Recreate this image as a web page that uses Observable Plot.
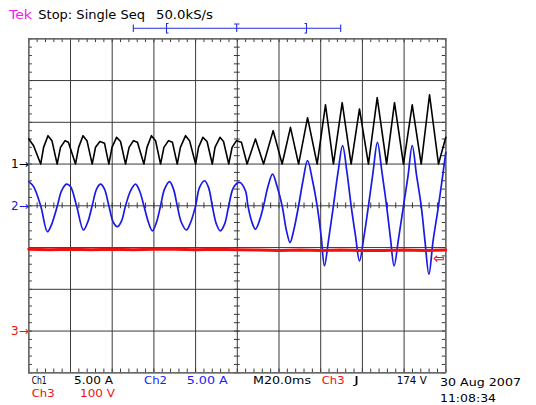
<!DOCTYPE html>
<html><head><meta charset="utf-8">
<script src="https://cdn.jsdelivr.net/npm/d3@7"></script>
<script src="https://cdn.jsdelivr.net/npm/@observablehq/plot@0.6"></script>
<style>
html,body{margin:0;padding:0;background:#fff;}
#wrap{position:relative;width:536px;height:405px;overflow:hidden;font-family:"DejaVu Sans",sans-serif;}
#wrap > svg{position:absolute;left:0;top:0;}
</style></head><body><div id="wrap"></div>
<script>
// ---- Screen grid (time in ms, vertical in divisions) ----
const majorX = [-100,-80,-60,-40,-20,0,20,40,60,80,100];
const majorY = [-4,-3,-2,-1,0,1,2,3,4];

// ---- Channels ----
const chLabels = ["1→","2→","3→"];
const chPos = [1, 0, -3];          // divisions
const chScale = [5, 5, 100];       // A/div, A/div, V/div
const chColors = ["#000000","#1a1ae6","#f01010"];
const triggerLevelV = [174];

// ---- Ch1 (black), time ms / current A ----
const ch1Time = [-100,-97.7,-94.3,-92.9,-90.8,-88.9,-86.4,-84.8,-82.6,-81.0,-77.6,-76.1,-74.0,-72.1,-69.6,-68.0,-65.9,-63.7,-61.6,-60.1,-57.9,-56.0,-53.6,-51.9,-49.8,-47.9,-44.8,-43.3,-41.2,-39.2,-36.8,-35.2,-33.0,-31.1,-28.8,-27.3,-24.8,-22.9,-20.0,-18.6,-16.5,-14.5,-12.0,-10.7,-8.3,-6.6,-4.1,-2.5,-0.4,2.0,4.7,8.7,12.6,17.2,21.5,25.5,29.4,33.7,38.3,42.3,46.1,50.3,54.6,58.6,62.9,67.1,71.6,75.4,79.7,83.9,88.2,92.2,96.5,100];
const ch1Amps = [3.0,2.2,0,2.0,3.4,2.8,0,2.0,2.8,2.6,0,2.0,3.4,2.8,0,2.0,2.7,2.5,0,2.0,3.2,2.7,0,2.0,2.8,2.6,0,2.0,3.4,2.8,0,2.0,2.8,2.6,0,2.0,3.4,2.8,0,2.0,3.2,2.7,0,2.0,3.2,2.7,0,2.0,2.8,2.6,0,3.0,0,4.0,0,4.4,0,5.55,0,7.1,0,7.35,0,6.6,0,7.95,0,7.35,0,7.1,0,8.3,0,3.2];

// ---- Ch2 (blue), time ms / current A ----
const ch2Time = [-100,-97.7,-94.3,-91.1,-89.5,-86.3,-84.3,-81.9,-80.0,-77.1,-73.8,-71.8,-69.6,-67.5,-65.6,-63.7,-61.6,-59.4,-57.5,-55.5,-53.6,-51.2,-48.8,-46.9,-44.8,-42.6,-40.7,-38.8,-36.8,-34.9,-32.5,-30.6,-28.8,-26.8,-24.4,-22.4,-20.0,-18.1,-15.7,-13.8,-12.0,-10.0,-8.1,-6.1,-4.1,-1.8,1.1,3.9,5.1,6.8,8.7,10.6,12.6,14.7,16.9,19.0,21.5,23.6,25.3,27.0,29.4,31.5,33.7,36.1,38.3,40.2,41.8,43.7,46.1,48.3,50.5,52.6,54.6,56.7,58.6,60.8,62.9,65.1,67.2,69.4,71.6,73.5,75.2,77.3,79.7,81.9,83.9,86.0,88.2,90.0,91.9,93.9,96.5,100];
const ch2Amps = [2.9,2.3,0,-3.1,-2.5,0,1.8,2.6,2.3,0,-2.9,-2.0,0,2.0,2.6,2.0,0,-2.0,-2.5,-1.8,0,1.8,2.6,1.8,0,-2.0,-3.0,-2.0,0,2.0,2.9,2.0,0,-2.0,-2.9,-2.0,0,2.2,3.0,2.2,0,-2.2,-3.0,-2.2,0,2.2,2.8,1.8,0,-1.8,-2.8,-1.8,0,2.3,3.8,2.4,0,-3.0,-4.4,-3.0,0,3.0,5.4,3.0,0,-3.6,-7.2,-4.2,0,4.0,7.2,4.0,0,-3.6,-6.6,-3.6,0,4.0,7.6,4.0,0,-4.0,-7.2,-4.0,0,3.6,7.2,3.6,0,-4.2,-8.2,-4.2,0,6.4];

// ---- Ch3 (red), time ms / voltage V ----
const ch3Time = [-100,-90,-80,-70,-60,-50,-40,-30,-20,-10,0,10,20,30,40,50,60,70,80,90,100];
const ch3Volts = [196,195,196,195,196,195,196,196,195,196,195,194,193,194,193,194,193,193,194,193,194];

// ---- Readout texts ----
const headerBrand = "Tek";
const headerState = "Stop: Single Seq";
const headerRate = "50.0kS/s";
const readLine1 = [["Ch1","#000",31.7,15],["5.00 A","#000",74,39],["Ch2","#1a1aff",144,23],["5.00 A","#1a1aff",186.7,41],["M20.0ms","#000",253,58],["Ch3","#f01010",321.7,23],["J","#000",354,5],["174 V","#000",396.7,30]];
const readLine2 = [["Ch3","#f01010",31.7,23],["100 V","#f01010",80,35]];
const dateText = ["30 Aug 2007","11:08:34"];

// ---- build ----
const toRows = (ts, vs, k) => ts.map((t,i)=>({t, y: chPos[k] + vs[i]/chScale[k]}));
const ch1 = toRows(ch1Time, ch1Amps, 0);
const ch2 = toRows(ch2Time, ch2Amps, 1);
const ch3 = toRows(ch3Time, ch3Volts, 2);
const channels = chLabels.map((l,i)=>({label:l, pos:chPos[i], color:chColors[i]}));

const minorX = d3.range(-100, 100.01, 4);
const minorY = d3.range(-4, 4.001, 0.2);
const grid = "#3a3a3a";

const chart = Plot.plot({
  width: 536, height: 405,
  marginLeft: 28.3, marginRight: 90.7, marginTop: 38.3, marginBottom: 32.7,
  x: {domain: [-100, 100], axis: null},
  y: {domain: [-4, 4], axis: null},
  style: {background: "transparent", overflow: "visible", fontFamily: "DejaVu Sans, sans-serif"},
  marks: [
    Plot.ruleX(majorX, {stroke: grid, strokeWidth: 1}),
    Plot.ruleY(majorY, {stroke: grid, strokeWidth: 1}),
    Plot.ruleX(minorX, {y1: 4, y2: 3.91, stroke: grid}),
    Plot.ruleX(minorX, {y1: -4, y2: -3.91, stroke: grid}),
    Plot.ruleX(minorX, {y1: -0.07, y2: 0.07, stroke: grid}),
    Plot.ruleY(minorY, {x1: -100, x2: -98.3, stroke: grid}),
    Plot.ruleY(minorY, {x1: 98.3, x2: 100, stroke: grid}),
    Plot.ruleY(minorY, {x1: -1.4, x2: 1.4, stroke: grid}),
    Plot.frame({stroke: "#6a6a6a", strokeWidth: 1.4}),
    Plot.line(ch2, {x: "t", y: "y", stroke: chColors[1], strokeWidth: 1.7, curve: "catmull-rom"}),
    Plot.line(ch1, {x: "t", y: "y", stroke: chColors[0], strokeWidth: 1.6, curve: "linear"}),
    Plot.line(ch3, {x: "t", y: "y", stroke: chColors[2], strokeWidth: 3, curve: "linear"}),
    Plot.text(channels, {y: "pos", frameAnchor: "left", text: "label", fill: "color", textAnchor: "end", dx: 0, fontSize: 12}),
    Plot.text(triggerLevelV, {y: d => chPos[2] + d/chScale[2], frameAnchor: "right", text: () => "⇦", fill: chColors[2], textAnchor: "end", dx: -1, fontSize: 14, fontWeight: "bold"})
  ]
});
const wrap = document.getElementById("wrap");
wrap.appendChild(chart);

// overlay readouts
const NS = "http://www.w3.org/2000/svg";
const ov = document.createElementNS(NS, "svg");
ov.setAttribute("width", 536); ov.setAttribute("height", 405);
ov.style.fontFamily = "DejaVu Sans, sans-serif";
function txt(s, x, y, fill, size, len){
  const t = document.createElementNS(NS, "text");
  t.setAttribute("x", x); t.setAttribute("y", y); t.setAttribute("fill", fill);
  t.setAttribute("font-size", size);
  if (len) { t.setAttribute("textLength", len); t.setAttribute("lengthAdjust", "spacingAndGlyphs"); }
  t.textContent = s; ov.appendChild(t);
}
txt(headerBrand, 9, 19.3, "#f020f0", 13, 23);
txt(headerState, 38.3, 19.3, "#000", 13, 106.7);
txt(headerRate, 156, 19.3, "#000", 13, 57);
readLine1.forEach(([s,c,x,w]) => txt(s, x, 383.5, c, 10.5, w));
readLine2.forEach(([s,c,x,w]) => txt(s, x, 396.5, c, 10.5, w));
txt(dateText[0], 440, 386, "#000", 11, 81);
txt(dateText[1], 440, 401.5, "#000", 11, 56);
// record-length bar
const bar = "#2030e0";
const g = document.createElementNS(NS, "path");
g.setAttribute("d", "M133.3,28.3H340.7 M133.3,24.5V32 M340.7,24.5V32 M168.5,23.5H166.5V33H168.5 M304.5,23.5H306.5V33H304.5 M234,24H239.5 M236.7,24V32");
g.setAttribute("stroke", bar); g.setAttribute("fill", "none"); g.setAttribute("stroke-width", 1.1);
ov.appendChild(g);
wrap.appendChild(ov);
</script></body></html>
